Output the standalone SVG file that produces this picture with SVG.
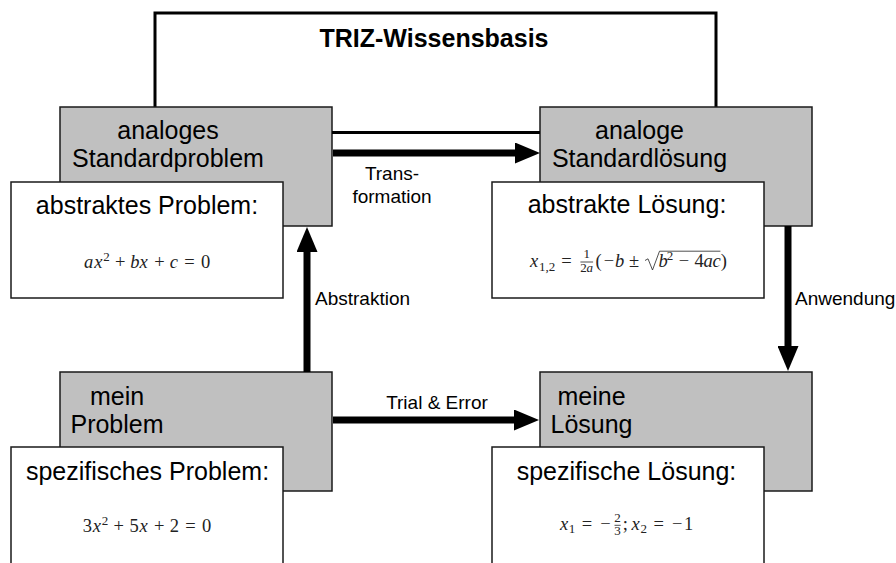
<svg xmlns="http://www.w3.org/2000/svg" width="896" height="563" viewBox="0 0 896 563">
  <style>
    .grey { fill: #c0c0c0; stroke: #1a1a1a; stroke-width: 1.5; }
    .white { fill: #ffffff; stroke: #1a1a1a; stroke-width: 1.5; }
    .big { font-family: "Liberation Sans", Arial, sans-serif; font-size: 25px; fill: #000; text-anchor: middle; }
    .title { font-family: "Liberation Sans", Arial, sans-serif; font-size: 25px; font-weight: bold; fill: #000; text-anchor: middle; }
    .lbl { font-family: "Liberation Sans", Arial, sans-serif; font-size: 19px; fill: #000; }
    .m { font-family: "Liberation Serif", "Times New Roman", serif; font-size: 18.5px; fill: #222; text-anchor: middle; }
    .mi { font-family: "Liberation Serif", "Times New Roman", serif; font-size: 18.5px; font-style: italic; fill: #222; text-anchor: middle; }
    .s { font-family: "Liberation Serif", "Times New Roman", serif; font-size: 13px; fill: #222; text-anchor: middle; }
    .si { font-family: "Liberation Serif", "Times New Roman", serif; font-size: 13px; font-style: italic; fill: #222; text-anchor: middle; }
    .rule { stroke: #222; stroke-width: 0.8; fill: none; }
    .frame { fill: none; stroke: #000; stroke-width: 3; }
    .thick { stroke: #000; stroke-width: 7; fill: none; }
  </style>
  <defs>
    <marker id="head" markerUnits="userSpaceOnUse" markerWidth="25" markerHeight="21" refX="7" refY="10.5" orient="auto">
      <path d="M0,0 L25,10.5 L0,21 z" fill="#000"/>
    </marker>
  </defs>

  <!-- knowledge base frame spanning both standard boxes -->
  <g id="triz-wissensbasis">
    <path class="frame" d="M155,108 V13 H716 V108"/>
    <text class="title" x="434" y="47">TRIZ-Wissensbasis</text>
  </g>

  <!-- standard problem -->
  <g id="analoges-standardproblem">
    <rect class="grey" x="60" y="107" width="272" height="119"/>
    <text class="big" x="168" y="139">analoges</text>
    <text class="big" x="168" y="167">Standardproblem</text>
  </g>
  <g id="abstraktes-problem">
    <rect class="white" x="11" y="182" width="272" height="116"/>
    <text class="big" x="147" y="214">abstraktes Problem:</text>
    <!-- a x^2 + b x + c = 0 -->
    <text class="mi" x="88.7" y="268">a</text>
    <text class="mi" x="98.3" y="268">x</text>
    <text class="s" x="106.5" y="261">2</text>
    <text class="m" x="120.2" y="268">+</text>
    <text class="mi" x="134.8" y="268">b</text>
    <text class="mi" x="143.6" y="268">x</text>
    <text class="m" x="159.4" y="268">+</text>
    <text class="mi" x="173.9" y="268">c</text>
    <text class="m" x="189.5" y="268">=</text>
    <text class="m" x="205.6" y="268">0</text>
  </g>

  <!-- standard solution -->
  <g id="analoge-standardloesung">
    <rect class="grey" x="540" y="107" width="272" height="119"/>
    <text class="big" x="639.5" y="139">analoge</text>
    <text class="big" x="639.5" y="167">Standardlösung</text>
  </g>
  <g id="abstrakte-loesung">
    <rect class="white" x="492" y="182" width="272" height="116"/>
    <text class="big" x="627" y="213">abstrakte Lösung:</text>
    <!-- x_{1,2} = 1/(2a) (-b ± sqrt(b^2 - 4ac)) -->
    <text class="mi" x="534" y="267">x</text>
    <text class="s" x="547" y="270.5">1,2</text>
    <text class="m" x="566.5" y="267">=</text>
    <text class="s" x="586.7" y="258">1</text>
    <line class="rule" x1="580.4" y1="262" x2="593.1" y2="262"/>
    <text class="s" x="583.5" y="272">2</text>
    <text class="si" x="589.8" y="272">a</text>
    <text class="m" x="598.6" y="267">(</text>
    <text class="m" x="608.9" y="267">−</text>
    <text class="mi" x="619.5" y="267">b</text>
    <text class="m" x="634" y="267">±</text>
    <path class="rule" d="M645,260.5 L648,258.8 L652.5,270 L659.5,251.2 H720.4"/>
    <text class="mi" x="663.2" y="267">b</text>
    <text class="s" x="670.1" y="260">2</text>
    <text class="m" x="684" y="267">−</text>
    <text class="m" x="699.1" y="267">4</text>
    <text class="mi" x="708.1" y="267">a</text>
    <text class="mi" x="716.6" y="267">c</text>
    <text class="m" x="723.8" y="267">)</text>
  </g>

  <!-- own problem -->
  <g id="mein-problem">
    <rect class="grey" x="60" y="372" width="272" height="119"/>
    <text class="big" x="117" y="405">mein</text>
    <text class="big" x="117" y="433">Problem</text>
  </g>
  <g id="spezifisches-problem">
    <rect class="white" x="11" y="447" width="272" height="130"/>
    <text class="big" x="147.5" y="480">spezifisches Problem:</text>
    <!-- 3x^2 + 5x + 2 = 0 -->
    <text class="m" x="87.4" y="532">3</text>
    <text class="mi" x="96.9" y="532">x</text>
    <text class="s" x="105" y="525">2</text>
    <text class="m" x="118.8" y="532">+</text>
    <text class="m" x="134" y="532">5</text>
    <text class="mi" x="143.5" y="532">x</text>
    <text class="m" x="159.2" y="532">+</text>
    <text class="m" x="174.4" y="532">2</text>
    <text class="m" x="190.5" y="532">=</text>
    <text class="m" x="206.7" y="532">0</text>
  </g>

  <!-- own solution -->
  <g id="meine-loesung">
    <rect class="grey" x="540" y="372" width="272" height="119"/>
    <text class="big" x="591.5" y="405">meine</text>
    <text class="big" x="591.5" y="433">Lösung</text>
  </g>
  <g id="spezifische-loesung">
    <rect class="white" x="492" y="447" width="272" height="130"/>
    <text class="big" x="626.5" y="480">spezifische Lösung:</text>
    <!-- x_1 = -2/3; x_2 = -1 -->
    <text class="mi" x="564" y="530">x</text>
    <text class="s" x="572.1" y="533">1</text>
    <text class="m" x="587" y="530">=</text>
    <text class="m" x="605.5" y="530">−</text>
    <text class="s" x="617.6" y="521.5">2</text>
    <line class="rule" x1="614.5" y1="525.3" x2="620.7" y2="525.3"/>
    <text class="s" x="617.6" y="535">3</text>
    <text class="m" x="625.2" y="530">;</text>
    <text class="mi" x="635.6" y="530">x</text>
    <text class="s" x="643.8" y="533">2</text>
    <text class="m" x="658.6" y="530">=</text>
    <text class="m" x="677.2" y="530">−</text>
    <text class="m" x="688.5" y="530">1</text>
  </g>

  <!-- connectors -->
  <g id="connectors">
    <line class="frame" x1="332" y1="132.5" x2="540" y2="132.5"/>
    <line class="thick" x1="333" y1="153" x2="522" y2="153" marker-end="url(#head)"/>
    <line class="thick" x1="307" y1="372" x2="307" y2="245" marker-end="url(#head)"/>
    <line class="thick" x1="788" y1="226" x2="788" y2="353" marker-end="url(#head)"/>
    <line class="thick" x1="333" y1="420" x2="521" y2="420" marker-end="url(#head)"/>
    <text class="lbl" x="392" y="180" text-anchor="middle">Trans-</text>
    <text class="lbl" x="392" y="203" text-anchor="middle">formation</text>
    <text class="lbl" x="315" y="305">Abstraktion</text>
    <text class="lbl" x="795" y="305">Anwendung</text>
    <text class="lbl" x="437" y="409" text-anchor="middle">Trial &amp; Error</text>
  </g>
</svg>
